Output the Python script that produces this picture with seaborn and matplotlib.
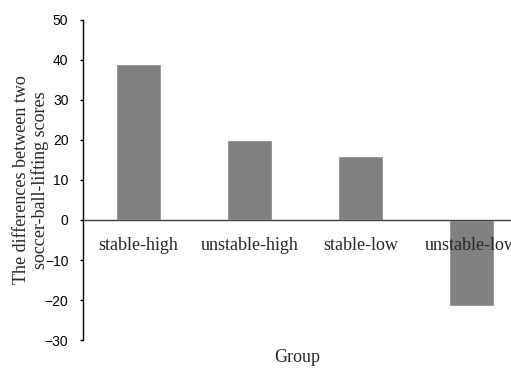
import matplotlib
matplotlib.use("Agg")
import pandas as pd
import matplotlib.pyplot as plt
import seaborn as sns

groups = ["stable-high", "unstable-high", "stable-low", "unstable-low"]
differences = [39, 20, 16, -21.5]

data = pd.DataFrame({"Group": groups, "Difference": differences})

sns.set_style("ticks")
plt.rcParams["font.family"] = ["Liberation Sans", "DejaVu Sans"]
serif = ["Liberation Serif", "DejaVu Serif"]

fig = plt.figure(figsize=(5.11, 3.70), dpi=100)
# axes runs a bit past the right edge, like the original screenshot
ax = fig.add_axes([83 / 511, 30 / 370, 444 / 511, 320 / 370])

sns.barplot(x="Group", y="Difference", data=data, color="#808080",
            width=0.41, saturation=1, ax=ax)

ax.set_ylim(-30, 50)
ax.set_yticks(range(-30, 51, 10))
ax.tick_params(axis="y", labelsize=10, length=2.5, width=1, color="black",
               labelcolor="black", direction="out", pad=8)

ax.spines["top"].set_visible(False)
ax.spines["right"].set_visible(False)
ax.spines["left"].set_color("black")
ax.spines["left"].set_linewidth(1)
ax.spines["bottom"].set_position(("data", 0))
ax.spines["bottom"].set_color("#404040")
ax.spines["bottom"].set_linewidth(1)
ax.set_axisbelow(False)

ax.tick_params(axis="x", length=0, pad=12)
for lbl in ax.get_xticklabels():
    lbl.set_fontfamily(serif)
    lbl.set_fontsize(13)

ax.set_xlabel("")
ax.set_ylabel("The differences between two\nsoccer-ball-lifting scores",
              fontfamily=serif, fontsize=13, linespacing=1.05)
ax.yaxis.label.set_verticalalignment("center")
ax.yaxis.set_label_coords(-52 / 444, 0.5)

fig.text(297 / 511, 1 - 357 / 370, "Group", ha="center", va="center",
         fontfamily=serif, fontsize=13)

fig.savefig("out.png", dpi=100)
